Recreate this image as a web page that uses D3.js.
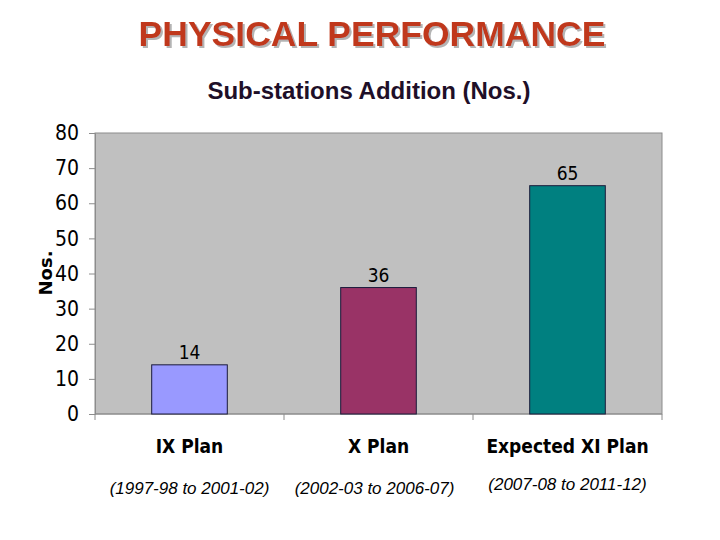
<!DOCTYPE html>
<html><head><meta charset="utf-8">
<script src="https://cdn.jsdelivr.net/npm/d3@7"></script>
<style>body{margin:0;background:#fff}svg{display:block}</style>
</head><body>
<script>
const categories = ["IX Plan", "X Plan", "Expected XI Plan"];
const periods = ["(1997-98 to 2001-02)", "(2002-03 to 2006-07)", "(2007-08 to 2011-12)"];
const values = [14, 36, 65];
const colors = ["#9999ff", "#993366", "#008080"];
const yTicks = [0, 10, 20, 30, 40, 50, 60, 70, 80];

const W = 720, H = 540;
const svg = d3.select("body").append("svg").attr("width", W).attr("height", H);
const defs = svg.append("defs");
defs.append("filter").attr("id", "sh").attr("x", "-5%").attr("y", "-20%").attr("width", "110%").attr("height", "140%")
  .append("feDropShadow").attr("dx", 2).attr("dy", 2).attr("stdDeviation", 0.6)
  .attr("flood-color", "#b4b4b4").attr("flood-opacity", 1);

const m = {l: 95, r: 58, t: 133, b: 126};
const x = d3.scaleBand().domain(categories).range([m.l, W - m.r]).paddingInner(0.6).paddingOuter(0.3);
const y = d3.scaleLinear().domain([0, 80]).range([H - m.b, m.t]);

svg.append("text").attr("x", 372).attr("y", 46).attr("text-anchor", "middle")
  .attr("font-family", "Liberation Sans, Arial").attr("font-weight", "bold").attr("font-size", 35.5)
  .attr("fill", "#c0391a").attr("filter", "url(#sh)").text("PHYSICAL PERFORMANCE");
svg.append("text").attr("x", 369).attr("y", 99).attr("text-anchor", "middle")
  .attr("font-family", "Liberation Sans, Arial").attr("font-weight", "bold").attr("font-size", 24)
  .attr("fill", "#1e0f28").text("Sub-stations Addition (Nos.)");

// plot area
svg.append("rect").attr("x", m.l).attr("y", m.t).attr("width", W - m.r - m.l).attr("height", H - m.b - m.t)
  .attr("fill", "#c0c0c0").attr("stroke", "#8c8c8c").attr("stroke-width", 1);

// y axis
const yAxis = d3.axisLeft(y).tickValues(yTicks).tickSize(6).tickPadding(10);
const gy = svg.append("g").attr("transform", `translate(${m.l},0)`).call(yAxis);
gy.select(".domain").attr("stroke", "#8c8c8c");
gy.selectAll(".tick line").attr("stroke", "#8c8c8c");
gy.selectAll(".tick text").attr("font-family", "DejaVu Sans Condensed, DejaVu Sans").attr("font-size", 21).attr("fill", "#000");

// x axis
const gx = svg.append("g").attr("transform", `translate(0,${H - m.b})`);
gx.append("line").attr("x1", m.l).attr("x2", W - m.r).attr("stroke", "#8c8c8c");
const step = (W - m.r - m.l) / categories.length;
gx.selectAll("line.tk").data(d3.range(categories.length + 1)).join("line").attr("class", "tk")
  .attr("x1", i => m.l + i * step).attr("x2", i => m.l + i * step).attr("y1", 0).attr("y2", 6).attr("stroke", "#8c8c8c");
gx.selectAll("text.cat").data(categories).join("text").attr("class", "cat")
  .attr("x", d => x(d) + x.bandwidth() / 2).attr("y", 39).attr("text-anchor", "middle")
  .attr("font-family", "DejaVu Sans Condensed, DejaVu Sans").attr("font-weight", "bold").attr("font-size", 19)
  .attr("fill", "#000").text(d => d);
gx.selectAll("text.per").data(periods).join("text").attr("class", "per")
  .attr("x", (d, i) => x(categories[i]) + x.bandwidth() / 2 + [0, -4, 0][i]).attr("y", (d, i) => [80, 80, 76][i])
  .attr("text-anchor", "middle")
  .attr("font-family", "Liberation Sans, Arial").attr("font-style", "italic").attr("font-size", 17)
  .attr("fill", "#000").text(d => d);

// bars
svg.selectAll("rect.bar").data(values).join("rect").attr("class", "bar")
  .attr("x", (d, i) => x(categories[i])).attr("width", x.bandwidth())
  .attr("y", d => y(d)).attr("height", d => y(0) - y(d))
  .attr("fill", (d, i) => colors[i]).attr("stroke", "#1a1a3a").attr("stroke-width", 1);
svg.selectAll("text.val").data(values).join("text").attr("class", "val")
  .attr("x", (d, i) => x(categories[i]) + x.bandwidth() / 2).attr("y", d => y(d) - 6)
  .attr("text-anchor", "middle").attr("font-family", "DejaVu Sans Condensed, DejaVu Sans").attr("font-size", 19)
  .attr("fill", "#000").text(d => d);

// y label
svg.append("text").attr("transform", "translate(52,273) rotate(-90)").attr("text-anchor", "middle")
  .attr("font-family", "DejaVu Sans, Verdana").attr("font-weight", "bold").attr("font-size", 18)
  .attr("fill", "#000").text("Nos.");
</script>
</body></html>
